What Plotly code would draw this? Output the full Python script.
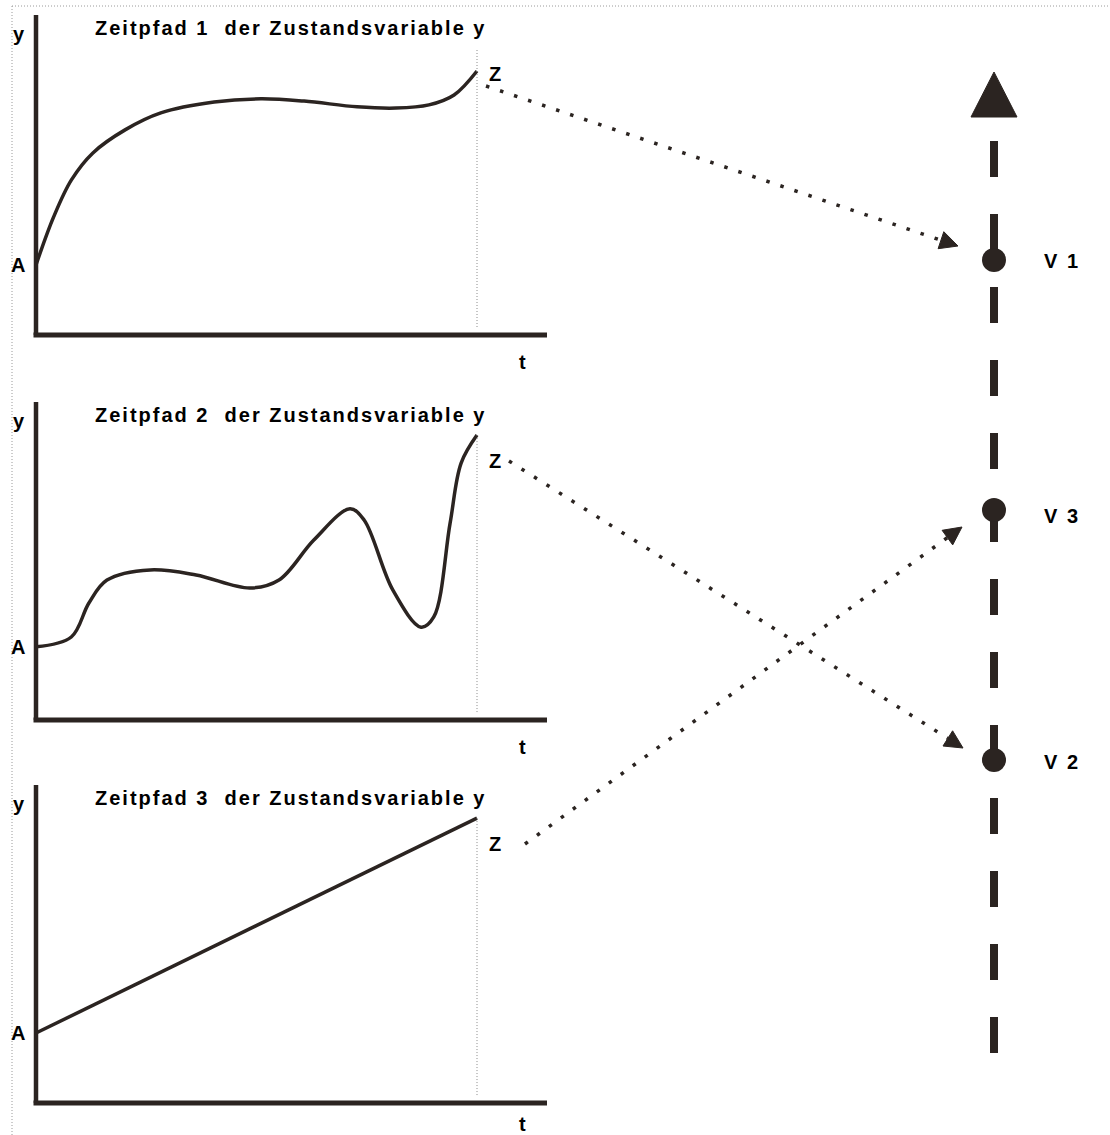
import math
import plotly.graph_objects as go

W, H = 1110, 1135
INK = "#2b2421"
TXT = "#000000"
FONT = "Liberation Sans, Arial, sans-serif"

# ---------------- DATA ----------------
titles = ["Zeitpfad 1 \u00a0der Zustandsvariable y",
          "Zeitpfad 2 \u00a0der Zustandsvariable y",
          "Zeitpfad 3 \u00a0der Zustandsvariable y"]

# time path 1 (t normalised 0..1, y on 0..10 scale of the panel axis)
path1_t = [0.0, 0.04, 0.08, 0.129, 0.202, 0.283, 0.404, 0.51, 0.608, 0.728, 0.816, 0.891, 0.948, 1.0]
path1_y = [2.19, 3.69, 4.84, 5.69, 6.41, 6.94, 7.28, 7.38, 7.31, 7.13, 7.09, 7.19, 7.50, 8.25]

path2_t = [0.0, 0.08, 0.12, 0.161, 0.259, 0.363, 0.485, 0.551, 0.63, 0.712, 0.744, 0.809, 0.873, 0.902, 0.939, 0.964, 1.0]
path2_y = [2.30, 2.61, 3.68, 4.40, 4.72, 4.56, 4.15, 4.40, 5.66, 6.64, 6.29, 4.09, 2.92, 3.24, 6.19, 8.08, 8.96]

path3_t = [0.0, 1.0]
path3_y = [2.20, 8.96]

paths = [(path1_t, path1_y), (path2_t, path2_y), (path3_t, path3_y)]

# value axis on the right (V 1 highest, V 3 middle, V 2 lowest)
v_labels = ["V 1", "V 3", "V 2"]
v_values = [9.0, 6.0, 3.0]
# which V each time path leads to
path_target = ["V 1", "V 2", "V 3"]

# ---------------- LAYOUT CONSTANTS (pixels) ----------------
AX_LEFT, AX_RIGHT, T_END = 36, 547, 477
PANEL_TOP = [15, 402, 785]
PANEL_BOTTOM = [335, 720, 1103]
PANEL_PAD_BELOW = 30
T_LABEL_Y = [-0.83, -0.85, -0.66]
T_PX = T_END - AX_LEFT
T_MIN = -AX_LEFT / T_PX
T_MAX = (AX_RIGHT - AX_LEFT) / T_PX

V_X = 994
V_PX_PER_UNIT = 250 / 3.0
V_ZERO_PX = 1010
V_RANGE = [(V_ZERO_PX - H) / V_PX_PER_UNIT, V_ZERO_PX / V_PX_PER_UNIT]
V_AXIS_TOP_PX, V_AXIS_BOTTOM_PX = 141, 1057
ARROW_APEX_PX, ARROW_BASE_PX, ARROW_HALF_W = 72, 117, 23

ARROW_START = [(486, 86), (509, 461), (525, 844)]
ARROW_TIP = [(958, 246), (963, 748), (962, 527)]

fig = go.Figure()

layout = dict(
    width=W, height=H, margin=dict(l=0, r=0, t=0, b=0),
    paper_bgcolor="white", plot_bgcolor="rgba(0,0,0,0)", showlegend=False,
    xaxis=dict(domain=[0, 1], range=[0, W], visible=False, fixedrange=True),
    yaxis=dict(domain=[0, 1], range=[H, 0], visible=False, fixedrange=True),
    yaxis5=dict(domain=[0, 1], range=V_RANGE, visible=False, anchor="x", overlaying="y", fixedrange=True),
)

shapes = []
annotations = []

# border (dotted, light grey)
shapes.append(dict(type="line", xref="x", yref="y", x0=12, y0=6, x1=W, y1=6,
                   line=dict(color="#9a9a9a", width=1, dash="1px,2px")))
shapes.append(dict(type="line", xref="x", yref="y", x0=12, y0=6, x1=12, y1=H,
                   line=dict(color="#9a9a9a", width=1, dash="1px,2px")))

f = dict(family=FONT, size=20, color=TXT)

for i, ((tt, yy), title) in enumerate(zip(paths, titles)):
    n = i + 2
    xa, ya = f"x{n}", f"y{n}"
    top, bot = PANEL_TOP[i], PANEL_BOTTOM[i]
    ypx = (bot - top) / 10.0
    y_min = -PANEL_PAD_BELOW / ypx
    layout[f"xaxis{n}"] = dict(domain=[0, AX_RIGHT / W], range=[T_MIN, T_MAX],
                               visible=False, anchor=ya, fixedrange=True)
    layout[f"yaxis{n}"] = dict(domain=[(H - bot - PANEL_PAD_BELOW) / H, (H - top) / H], range=[y_min, 10],
                               visible=False, anchor=xa, fixedrange=True)
    # axes
    shapes.append(dict(type="line", xref=xa, yref=ya, x0=-2.5 / T_PX, x1=T_MAX,
                       y0=0, y1=0, line=dict(color=INK, width=5)))
    shapes.append(dict(type="line", xref=xa, yref=ya, x0=0, x1=0, y0=0, y1=10,
                       line=dict(color=INK, width=4.5)))
    # end-of-horizon marker
    shapes.append(dict(type="line", xref=xa, yref=ya, x0=1, x1=1, y0=0.25, y1=8.95,
                       line=dict(color="#8c8c8c", width=1, dash="1px,2px")))
    # curve
    fig.add_trace(go.Scatter(x=tt, y=yy, xaxis=xa, yaxis=ya, mode="lines",
                             line=dict(color=INK, width=3.5, shape="spline", smoothing=1.0),
                             hoverinfo="skip"))
    annotations += [
        dict(xref=xa, yref=ya, x=0.578, y=9.6, text=f"<b>{title}</b>", showarrow=False, font=f,
             xanchor="center", yanchor="middle"),
        dict(xref=xa, yref=ya, x=-0.018, y=9.4, text="<b>y</b>", showarrow=False, font=f,
             xanchor="right", yanchor="middle"),
        dict(xref=xa, yref=ya, x=-0.018, y=yy[0], text="<b>A</b>", showarrow=False, font=f,
             xanchor="right", yanchor="middle"),
        dict(xref=xa, yref=ya, x=1.043, y=8.15, text="<b>Z</b>", showarrow=False, font=f,
             xanchor="center", yanchor="middle"),
        dict(xref=xa, yref=ya, x=1.106, y=T_LABEL_Y[i], text="<b>t</b>", showarrow=False, font=f,
             xanchor="center", yanchor="middle"),
    ]

# right value axis: dashed line + arrow head
v_top = (V_ZERO_PX - V_AXIS_TOP_PX) / V_PX_PER_UNIT
v_bot = (V_ZERO_PX - V_AXIS_BOTTOM_PX) / V_PX_PER_UNIT
fig.add_trace(go.Scatter(x=[V_X, V_X], y=[v_top, v_bot], xaxis="x", yaxis="y5", mode="lines",
                         line=dict(color=INK, width=8, dash="36px,37px"), hoverinfo="skip"))
shapes.append(dict(type="path", xref="x", yref="y",
                   path=f"M{V_X - ARROW_HALF_W},{ARROW_BASE_PX} L{V_X + ARROW_HALF_W},{ARROW_BASE_PX} L{V_X},{ARROW_APEX_PX} Z",
                   fillcolor=INK, line=dict(color=INK, width=1)))

fig.add_trace(go.Scatter(x=[V_X] * len(v_values), y=v_values, xaxis="x", yaxis="y5", mode="markers",
                         marker=dict(size=24, color=INK), hoverinfo="skip"))
label_shift = {"V 1": -0.01, "V 3": -0.07, "V 2": -0.02}
for lab, val in zip(v_labels, v_values):
    annotations.append(dict(xref="x", yref="y5", x=1045, y=val + label_shift[lab], text=f"<b>{lab}</b>",
                            showarrow=False, xanchor="left", yanchor="middle", font=f))

# dotted arrows from each Z to its V
for (sx, sy), (tx, ty) in zip(ARROW_START, ARROW_TIP):
    dx, dy = tx - sx, ty - sy
    L = math.hypot(dx, dy)
    ux, uy = dx / L, dy / L
    nx, ny = -uy, ux
    head_len, head_half = 18, 9
    bx, by = tx - head_len * ux, ty - head_len * uy
    fig.add_trace(go.Scatter(x=[sx, bx], y=[sy, by], xaxis="x", yaxis="y", mode="lines",
                             line=dict(color=INK, width=3.5, dash="3.5px,11.3px"), hoverinfo="skip"))
    shapes.append(dict(type="path", xref="x", yref="y",
                       path=(f"M{bx + head_half * nx:.1f},{by + head_half * ny:.1f} "
                             f"L{tx:.1f},{ty:.1f} L{bx - head_half * nx:.1f},{by - head_half * ny:.1f} Z"),
                       fillcolor=INK, line=dict(color=INK, width=1)))

layout["shapes"] = shapes
layout["annotations"] = annotations
fig.update_layout(**layout)

post = ("document.body.style.margin='0';"
        "document.querySelectorAll('.annotation-text').forEach(function(e){e.style.letterSpacing='2px';});")
fig.write_html("out.html", config={"displayModeBar": False, "staticPlot": True}, post_script=post)
